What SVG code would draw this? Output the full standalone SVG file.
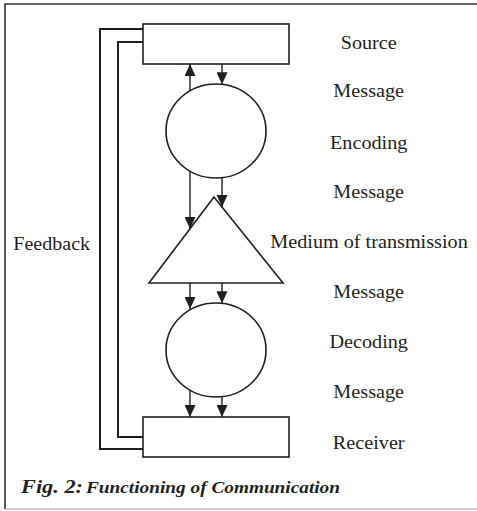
<svg xmlns="http://www.w3.org/2000/svg" width="477" height="511" viewBox="0 0 477 511">
  <style>
    .shape { fill: #ffffff; stroke: #231f20; stroke-width: 1.6; }
    .line { fill: none; stroke: #231f20; stroke-width: 1.4; }
    .fb { fill: none; stroke: #231f20; stroke-width: 2; }
    .lbl { font-family: "Liberation Serif", "Times New Roman", serif; font-size: 18px; fill: #231f20; text-anchor: middle; }
    .cap { font-family: "Liberation Serif", "Times New Roman", serif; font-weight: bold; font-style: italic; fill: #231f20; }
  </style>
  <defs>
    <marker id="arrow" viewBox="0 0 12 11" refX="12" refY="5.5" markerWidth="12" markerHeight="11" markerUnits="userSpaceOnUse" orient="auto">
      <path d="M0,0 L12,5.5 L0,11 Z" fill="#231f20"/>
    </marker>
  </defs>

  <rect width="477" height="511" fill="#ffffff"/>

  <!-- frame -->
  <path d="M477,4 H5 V509" fill="none" stroke="#333333" stroke-width="1.6"/>
  <path d="M5,509 H477" fill="none" stroke="#9a9a9a" stroke-width="1.2"/>

  <!-- nodes -->
  <g id="source">
    <rect class="shape" x="143" y="24" width="146" height="40"/>
    <text class="lbl" x="368.7" y="48.5" textLength="56" lengthAdjust="spacingAndGlyphs">Source</text>
  </g>
  <g id="encoding">
    <ellipse class="shape" cx="216" cy="131" rx="50" ry="47"/>
    <text class="lbl" x="368.7" y="148.5" textLength="77.4" lengthAdjust="spacingAndGlyphs">Encoding</text>
  </g>
  <g id="medium">
    <polygon class="shape" points="214,197 149,283 283,283"/>
    <text class="lbl" x="369" y="248" textLength="197.5" lengthAdjust="spacingAndGlyphs">Medium of transmission</text>
  </g>
  <g id="decoding">
    <ellipse class="shape" cx="216" cy="350" rx="50" ry="47"/>
    <text class="lbl" x="368.7" y="347.5" textLength="78.5" lengthAdjust="spacingAndGlyphs">Decoding</text>
  </g>
  <g id="receiver">
    <rect class="shape" x="143" y="417" width="146" height="40"/>
    <text class="lbl" x="368.7" y="448.5" textLength="71.8" lengthAdjust="spacingAndGlyphs">Receiver</text>
  </g>

  <!-- connectors -->
  <g id="connectors">
    <line class="line" x1="190" y1="91" x2="190" y2="64" marker-end="url(#arrow)"/>
    <line class="line" x1="222" y1="64" x2="222" y2="84.3" marker-end="url(#arrow)"/>
    <line class="line" x1="190" y1="171" x2="190" y2="229" marker-end="url(#arrow)"/>
    <line class="line" x1="222" y1="177.7" x2="222" y2="207" marker-end="url(#arrow)"/>
    <line class="line" x1="190" y1="283" x2="190" y2="309" marker-end="url(#arrow)"/>
    <line class="line" x1="222" y1="283" x2="222" y2="303.3" marker-end="url(#arrow)"/>
    <line class="line" x1="190" y1="390" x2="190" y2="417" marker-end="url(#arrow)"/>
    <line class="line" x1="222" y1="396.5" x2="222" y2="417" marker-end="url(#arrow)"/>
    <!-- feedback loop -->
    <path class="fb" d="M143,29 H100 V449 H143"/>
    <path class="fb" d="M143,42 H118 V437 H143"/>
  </g>

  <!-- message labels between stages -->
  <g id="labels">
    <text class="lbl" x="368.7" y="97" textLength="70.7" lengthAdjust="spacingAndGlyphs">Message</text>
    <text class="lbl" x="368.7" y="197.5" textLength="70.7" lengthAdjust="spacingAndGlyphs">Message</text>
    <text class="lbl" x="368.7" y="298" textLength="70.7" lengthAdjust="spacingAndGlyphs">Message</text>
    <text class="lbl" x="368.7" y="397.5" textLength="70.7" lengthAdjust="spacingAndGlyphs">Message</text>
    <text class="lbl" x="51.7" y="249.5" textLength="76.7" lengthAdjust="spacingAndGlyphs">Feedback</text>
  </g>

  <!-- caption -->
  <g id="caption">
    <text class="cap" x="21" y="492.5" font-size="18" textLength="62" lengthAdjust="spacingAndGlyphs">Fig. 2:</text>
    <text class="cap" x="86" y="492.5" font-size="16" textLength="254" lengthAdjust="spacingAndGlyphs">Functioning of Communication</text>
  </g>
</svg>
